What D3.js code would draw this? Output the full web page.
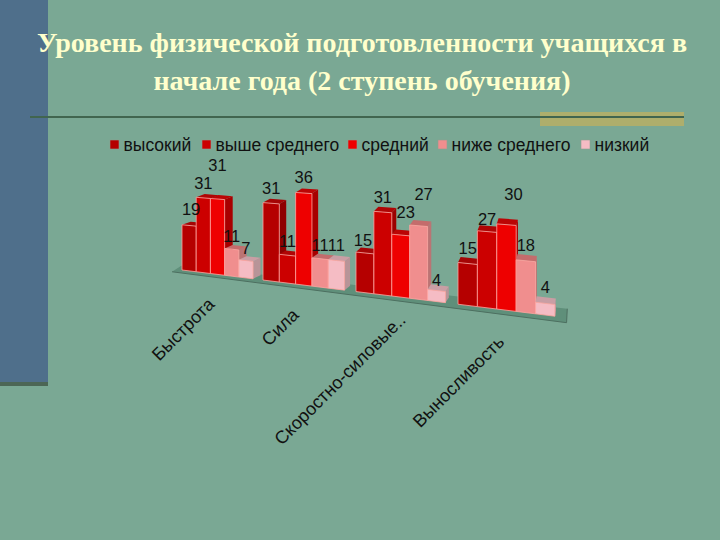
<!DOCTYPE html>
<html>

<head>
    <meta charset="UTF-8">
    <title>Уровень физической подготовленности</title>
    <script src="https://d3js.org/d3.v7.min.js"></script>
    <style>
        html, body { margin: 0; padding: 0; background: #7aa894; overflow: hidden; }
    </style>
</head>

<body>
    <script>
        const titleLines = ["Уровень физической подготовленности учащихся в", "начале года (2 ступень обучения)"];
        const categories = ["Быстрота", "Сила", "Скоростно-силовые..", "Выносливость"];
        const seriesNames = ["высокий", "выше среднего", "средний", "ниже среднего", "низкий"];

        const vysokiy = [19, 31, 15, 15];
        const vysheSrednego = [31, 11, 31, 27];
        const sredniy = [31, 36, 23, 30];
        const nizheSrednego = [11, 11, 27, 18];
        const nizkiy = [7, 11, 4, 4];
        const seriesValues = [vysokiy, vysheSrednego, sredniy, nizheSrednego, nizkiy];

        // face colours per series
        const frontColors = ["#b50000", "#cc0000", "#ee0000", "#f08e8e", "#f5bcc4"];
        const topColors = ["#a50505", "#b00505", "#bb0505", "#c46c6c", "#c99ea4"];
        const sideColors = ["#8e0000", "#9c0000", "#a80000", "#bb7474", "#b89498"];

        // the labels in the picture do not sit straight on their bars: [dx, lift] per series, per category
        const labelNudge = [
            [[2, 16], [0, 15], [-2, 13], [0, 15]],
            [[0, 15], [0, 14], [0, 15], [0, 13]],
            [[0, 34], [0, 16], [5, 23], [7, 31]],
            [[0, 13], [0, 14], [5, 32], [0, 16]],
            [[0, 13], [0, 15], [0, 11], [0, 16]]
        ];
        // same for the rotated category labels
        const categoryNudge = [[-3, 3], [-5, 3], [5, -4], [-2, 5]];

        const width = 720, height = 540;
        const slotsPerGroup = 5.7;

        const svg = d3.select("body").append("svg")
            .attr("width", width).attr("height", height)
            .style("display", "block")
            .style("font-family", "'Liberation Sans', Arial, sans-serif");

        svg.append("rect").attr("width", width).attr("height", height).attr("fill", "#7aa894");

        // slide decoration
        svg.append("rect").attr("width", 48).attr("height", 382).attr("fill", "#4f6f8b");
        svg.append("rect").attr("y", 382).attr("width", 48).attr("height", 4).attr("fill", "#4c6655");
        svg.append("rect").attr("x", 540).attr("y", 112).attr("width", 144).attr("height", 14).attr("fill", "#aeae6c");
        svg.append("rect").attr("x", 30).attr("y", 116).attr("width", 654).attr("height", 2).attr("fill", "#41654f");

        svg.append("g").selectAll("text")
            .data(titleLines).enter().append("text")
            .attr("x", 362)
            .attr("y", (d, i) => 52 + i * 38)
            .attr("text-anchor", "middle")
            .attr("fill", "#ffffcc")
            .style("font-family", "'Liberation Serif', serif")
            .style("font-weight", "bold")
            .style("font-size", "28px")
            .text(d => d);

        // the chart is a perspective view: slots widen to the right, floor slopes down
        const xScale = d3.scaleLinear()
            .domain([0, slotsPerGroup, 2 * slotsPerGroup, 3 * slotsPerGroup, 22])
            .range([182, 263, 356, 458, 553]);
        const floorY = d3.scaleLinear().domain([182, 553]).range([270, 316]);
        const unitPx = d3.scaleLinear().domain([182, 553]).range([2.38, 2.92]);
        const depthX = d3.scaleLinear().domain([182, 553]).range([9, 1]);
        const depthY = d3.scaleLinear().domain([182, 553]).range([3, 6]);

        const slot = (g, s) => g * slotsPerGroup + s;
        const topY = (x, v) => floorY(x) - v * unitPx(x);
        const line = d3.line();

        // floor
        const floorLeft = xScale(-0.7), floorRight = xScale(22.7);
        const floorPts = [
            [floorLeft, floorY(floorLeft) + 3],
            [floorRight, floorY(floorRight) + 5],
            [floorRight + depthX(floorRight), floorY(floorRight) - 9],
            [floorLeft + depthX(floorLeft), floorY(floorLeft) - 3]
        ];
        svg.append("path")
            .attr("d", line(floorPts) + "Z")
            .attr("fill", "#5f8f7a");
        svg.append("path")
            .attr("d", line(floorPts.slice(0, 3)))
            .attr("fill", "none")
            .attr("stroke", "#4d6f60")
            .attr("stroke-width", 1);

        const bars = [];
        categories.forEach((c, g) => {
            seriesValues.forEach((values, s) => {
                bars.push({ g, s, v: values[g], x0: xScale(slot(g, s)), x1: xScale(slot(g, s + 1)) });
            });
        });

        const barG = svg.append("g").selectAll("g")
            .data(bars).enter().append("g");

        const d3x = d => depthX(d.x1), d3y = d => depthY(d.x1);

        // side face
        barG.append("path")
            .attr("d", d => line([
                [d.x1, floorY(d.x1)],
                [d.x1 + d3x(d), floorY(d.x1) - d3y(d)],
                [d.x1 + d3x(d), topY(d.x1, d.v) - d3y(d)],
                [d.x1, topY(d.x1, d.v)]
            ]) + "Z")
            .attr("fill", d => sideColors[d.s]);

        // top face
        barG.append("path")
            .attr("d", d => line([
                [d.x0, topY(d.x0, d.v)],
                [d.x1, topY(d.x1, d.v)],
                [d.x1 + d3x(d), topY(d.x1, d.v) - d3y(d)],
                [d.x0 + d3x(d), topY(d.x0, d.v) - d3y(d)]
            ]) + "Z")
            .attr("fill", d => topColors[d.s]);

        // front face
        barG.append("path")
            .attr("d", d => line([
                [d.x0, floorY(d.x0)],
                [d.x1, floorY(d.x1)],
                [d.x1, topY(d.x1, d.v)],
                [d.x0, topY(d.x0, d.v)]
            ]) + "Z")
            .attr("fill", d => frontColors[d.s])
            .attr("stroke", "#ffa5a0")
            .attr("stroke-width", 0.8);

        // value labels
        svg.append("g").selectAll("text")
            .data(bars).enter().append("text")
            .attr("x", d => (d.x0 + d.x1) / 2 + labelNudge[d.s][d.g][0])
            .attr("y", d => topY((d.x0 + d.x1) / 2, d.v) - labelNudge[d.s][d.g][1] + 6)
            .attr("text-anchor", "middle")
            .attr("fill", "#111")
            .style("font-size", "16.5px")
            .text(d => d.v);

        // category labels
        svg.append("g").selectAll("text")
            .data(categories).enter().append("text")
            .attr("transform", (d, g) => {
                const cx = xScale(slot(g, 2.5));
                return `translate(${cx + 1 + categoryNudge[g][0]},${floorY(cx) + 28 + categoryNudge[g][1]}) rotate(-45)`;
            })
            .attr("text-anchor", "end")
            .attr("fill", "#111")
            .style("font-size", "18px")
            .text(d => d);

        // legend
        const legendX = d3.scaleOrdinal().domain(seriesNames).range([110, 202, 348, 438, 581]);
        const legend = svg.append("g").selectAll("g")
            .data(seriesNames).enter().append("g")
            .attr("transform", d => `translate(${legendX(d)},145)`);
        legend.append("rect")
            .attr("y", -5).attr("width", 9).attr("height", 9)
            .attr("fill", (d, i) => frontColors[i])
            .attr("stroke", "#8f9f90").attr("stroke-width", 0.6);
        legend.append("text")
            .attr("x", 13.5).attr("y", 6)
            .attr("fill", "#111")
            .style("font-size", "17.5px")
            .text(d => d);
    </script>
</body>

</html>
